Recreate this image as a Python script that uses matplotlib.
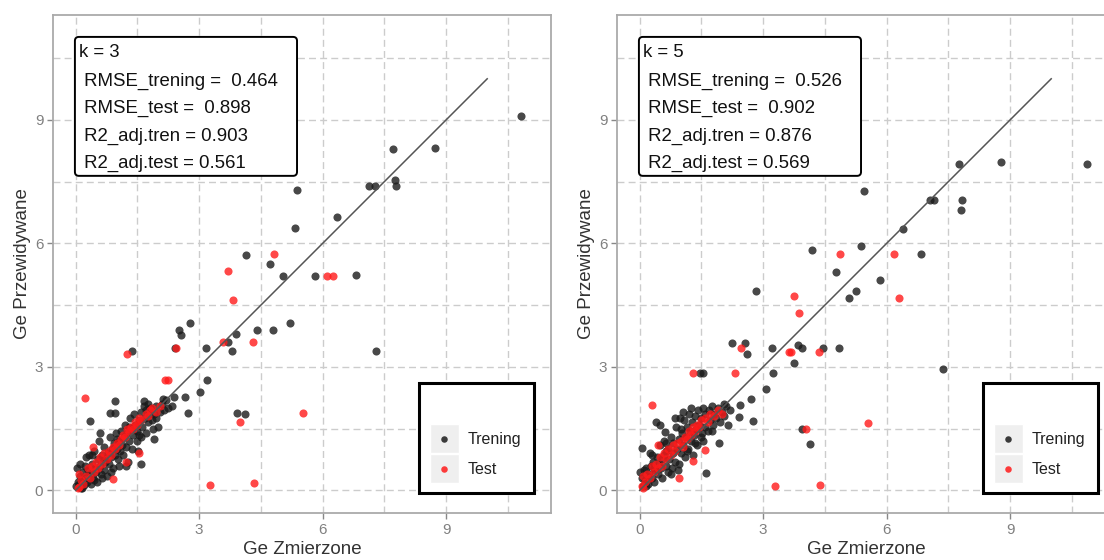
import numpy as np
import matplotlib
matplotlib.use("Agg")
import matplotlib.pyplot as plt
from matplotlib.patches import FancyBboxPatch, Rectangle

plt.rcParams['font.family'] = ['Liberation Sans', 'DejaVu Sans']

# ---- data: (measured, predicted) ----
k3_train = [
    (0.02, 0.10), (0.05, 0.20), (0.08, 0.15), (0.10, 0.35), (0.03, 0.55), (0.12, 0.05),
    (0.15, 0.25), (0.18, 0.45), (0.20, 0.12), (0.22, 0.60), (0.25, 0.30), (0.28, 0.20),
    (0.30, 0.50), (0.32, 0.85), (0.35, 0.40), (0.38, 0.15), (0.40, 0.65), (0.42, 0.30),
    (0.45, 0.95), (0.47, 0.55), (0.50, 0.45), (0.52, 0.20), (0.55, 0.75), (0.57, 1.20),
    (0.60, 0.60), (0.62, 0.40), (0.65, 0.85), (0.68, 0.50), (0.70, 1.05), (0.72, 0.70),
    (0.75, 0.35), (0.78, 0.90), (0.80, 0.65), (0.83, 1.30), (0.85, 0.80), (0.88, 1.00),
    (0.90, 0.55), (0.92, 1.15), (0.95, 0.85), (0.97, 1.40), (1.00, 1.00), (1.02, 0.75),
    (1.05, 1.20), (1.08, 0.95), (1.10, 1.45), (1.12, 1.10), (1.15, 0.85), (1.18, 1.30),
    (1.20, 1.60), (1.22, 1.05), (1.25, 1.40), (1.28, 0.70), (1.30, 1.20), (1.32, 1.75),
    (1.35, 1.50), (1.38, 1.00), (1.40, 1.35), (1.42, 1.85), (1.45, 1.60), (1.48, 1.20),
    (1.50, 1.45), (1.52, 0.95), (1.55, 1.70), (1.58, 1.90), (1.60, 1.30), (1.62, 1.55),
    (1.65, 2.05), (1.68, 1.75), (1.70, 1.40), (1.72, 1.95), (1.75, 1.65), (1.78, 1.85),
    (1.80, 2.00), (1.85, 1.70), (1.88, 1.50), (1.90, 1.85), (1.95, 2.05), (2.00, 1.55),
    (2.05, 1.90), (2.10, 2.10), (2.15, 1.95), (2.20, 2.20), (2.25, 2.00), (0.96, 2.17),
    (0.83, 1.89), (0.96, 1.89), (1.67, 2.17), (2.13, 2.23), (1.90, 1.24), (1.58, 0.65),
    (0.59, 1.39), (0.35, 1.69), (0.10, 0.65), (0.25, 0.80), (1.23, 0.59),
    (0.15, 0.05), (0.45, 0.25), (0.65, 0.30), (0.85, 0.45), (1.05, 0.60), (0.70, 0.75),
    (1.00, 1.25), (1.30, 1.55), (1.55, 1.35), (1.75, 2.10), (1.95, 1.75), (0.40, 0.85),
    (2.35, 2.06), (2.39, 2.27), (2.66, 2.27), (2.72, 1.88), (3.03, 2.40), (3.19, 2.69),
    (3.16, 3.45), (3.80, 3.38), (3.70, 3.61), (3.89, 3.80), (4.40, 3.89), (4.79, 3.89),
    (2.52, 3.90), (2.57, 3.78), (2.79, 4.06), (5.21, 4.06), (1.38, 3.38), (2.41, 3.45),
    (3.93, 1.89), (4.12, 1.86), (7.30, 3.38), (5.05, 5.21), (5.81, 5.21), (6.80, 5.24),
    (4.14, 5.71), (4.72, 5.51), (5.33, 6.38), (6.34, 6.63), (5.38, 7.30), (7.13, 7.40),
    (7.28, 7.40), (7.78, 7.40), (7.75, 7.55), (7.72, 8.29), (8.74, 8.33), (10.82, 9.09),
]
k3_test = [
    (0.05, 0.05), (0.08, 0.40), (0.12, 0.25), (0.18, 0.15), (0.25, 0.35), (0.30, 0.55),
    (0.35, 0.30), (0.40, 0.60), (0.42, 1.05), (0.45, 0.45), (0.50, 0.70), (0.55, 0.55),
    (0.60, 0.80), (0.65, 0.65), (0.70, 0.90), (0.75, 0.75), (0.80, 0.95), (0.85, 0.85),
    (0.90, 1.05), (0.91, 0.27), (0.95, 1.00), (1.00, 1.15), (1.05, 1.10), (1.10, 1.25),
    (1.15, 1.35), (1.20, 1.30), (1.23, 0.69), (1.25, 1.50), (1.30, 1.45), (1.35, 1.55),
    (1.40, 1.50), (1.45, 1.65), (1.50, 1.60), (1.54, 0.90), (1.55, 1.75), (1.60, 1.70),
    (1.70, 1.85), (1.75, 1.80), (1.80, 1.95), (1.85, 2.00), (1.95, 1.90), (2.05, 2.05),
    (0.23, 2.24), (1.24, 3.32), (2.18, 2.69), (2.25, 2.69), (2.44, 3.45), (3.57, 3.61),
    (4.31, 3.61), (3.83, 4.62), (3.70, 5.33), (4.83, 5.74), (6.11, 5.21), (6.26, 5.21),
    (4.00, 1.65), (5.52, 1.89), (3.27, 0.13), (4.34, 0.17), (0.08, 0.07),
]

k5_train = [
    (0.02, 0.45), (0.05, 0.30), (0.06, 1.02), (0.08, 0.10), (0.10, 0.50), (0.12, 0.25),
    (0.15, 0.55), (0.18, 0.35), (0.20, 0.15), (0.25, 0.90), (0.22, 0.40), (0.28, 0.60),
    (0.30, 0.30), (0.33, 0.70), (0.35, 0.20), (0.38, 0.50), (0.40, 1.67), (0.42, 0.80),
    (0.45, 0.40), (0.48, 0.65), (0.50, 1.10), (0.52, 0.55), (0.55, 0.30), (0.58, 0.85),
    (0.60, 1.20), (0.62, 1.41), (0.63, 0.60), (0.65, 0.95), (0.68, 0.45), (0.70, 1.00),
    (0.72, 0.75), (0.75, 1.30), (0.78, 0.55), (0.80, 0.90), (0.82, 1.15), (0.85, 0.70),
    (0.88, 1.55), (0.90, 1.00), (0.92, 0.50), (0.95, 1.25), (0.97, 1.75), (1.00, 0.90),
    (1.02, 1.40), (1.05, 1.10), (1.08, 1.70), (1.10, 0.80), (1.12, 1.30), (1.15, 1.55),
    (1.18, 1.00), (1.20, 1.85), (1.22, 1.45), (1.25, 1.20), (1.28, 1.65), (1.30, 0.85),
    (1.32, 1.35), (1.35, 1.80), (1.38, 1.50), (1.40, 1.10), (1.42, 1.95), (1.45, 1.60),
    (1.48, 1.30), (1.50, 1.75), (1.52, 1.40), (1.55, 2.00), (1.58, 1.55), (1.60, 1.85),
    (1.62, 0.43), (1.65, 1.45), (1.68, 1.95), (1.70, 1.70), (1.75, 2.05), (1.78, 1.60),
    (1.80, 1.85), (1.85, 1.75), (1.90, 2.00), (1.93, 1.15), (1.95, 1.65), (2.00, 1.90),
    (2.05, 1.80), (2.10, 2.05), (2.15, 1.60), (2.20, 1.95), (2.05, 2.10), (1.05, 1.90),
    (0.85, 1.75), (1.25, 2.00), (0.50, 1.60), (1.47, 2.84), (1.53, 2.84),
    (0.15, 0.10), (0.35, 0.55), (0.55, 0.75), (0.75, 0.40), (0.95, 0.65), (1.15, 0.95),
    (1.35, 1.15), (1.55, 1.20), (1.75, 1.45), (0.30, 0.85), (0.65, 1.15), (1.00, 1.50),
    (2.41, 1.78), (2.44, 2.07), (2.75, 1.69), (2.70, 2.23), (3.08, 2.46), (3.24, 2.84),
    (2.25, 3.58), (2.57, 3.58), (2.61, 3.32), (3.21, 3.45), (3.85, 3.53), (3.94, 3.45),
    (4.46, 3.45), (4.84, 3.45), (3.74, 3.10), (3.95, 1.50), (4.15, 1.12), (7.36, 2.94),
    (2.83, 4.85), (5.09, 4.67), (5.26, 4.85), (5.85, 5.11), (4.77, 5.30), (4.20, 5.84),
    (5.37, 5.93), (6.84, 5.74), (6.39, 6.34), (5.44, 7.27), (7.16, 7.05), (7.05, 7.05),
    (7.83, 7.05), (7.80, 6.82), (7.77, 7.94), (8.78, 7.97), (10.86, 7.94),
]
k5_test = [
    (0.05, 0.10), (0.08, 0.35), (0.12, 0.20), (0.18, 0.40), (0.25, 0.30), (0.30, 0.60),
    (0.35, 0.45), (0.40, 0.65), (0.45, 0.55), (0.50, 0.80), (0.55, 0.60), (0.60, 0.90),
    (0.65, 0.75), (0.70, 1.00), (0.75, 0.85), (0.80, 1.10), (0.85, 0.95), (0.90, 1.15),
    (0.96, 0.29), (1.00, 1.20), (1.05, 1.05), (1.10, 1.30), (1.15, 1.25), (1.20, 1.45),
    (1.25, 1.35), (1.29, 0.71), (1.30, 1.55), (1.35, 1.45), (1.40, 1.60), (1.45, 1.55),
    (1.50, 1.70), (1.58, 0.99), (1.60, 1.75), (1.65, 1.65), (1.70, 1.85), (1.80, 1.80),
    (1.90, 1.95), (2.00, 1.85), (0.45, 1.10), (0.29, 2.08),
    (1.29, 2.84), (2.31, 2.84), (2.46, 3.45), (3.62, 3.35), (3.68, 3.35), (4.36, 3.35),
    (3.88, 4.31), (3.74, 4.72), (6.29, 4.67), (4.86, 5.74), (6.17, 5.74), (4.05, 1.50),
    (5.56, 1.63), (3.30, 0.10), (4.38, 0.14), (0.08, 0.05),
]

panels = [
    (k3_train, k3_test, ["k = 3", " RMSE_trening =  0.464", " RMSE_test =  0.898",
                         " R2_adj.tren = 0.903", " R2_adj.test = 0.561"]),
    (k5_train, k5_test, ["k = 5", " RMSE_trening =  0.526", " RMSE_test =  0.902",
                         " R2_adj.tren = 0.876", " R2_adj.test = 0.569"]),
]
line_x = [0, 10]
ticks = [0, 3, 6, 9]
minor = [1.5, 4.5, 7.5, 10.5]
lim = (-0.55, 11.55)

fig = plt.figure(figsize=(11.04, 5.6), dpi=100)
positions = [[53 / 1104, 47 / 560, 498 / 1104, 498 / 560],
             [617 / 1104, 47 / 560, 498 / 1104, 498 / 560]]

for pos, (train, test, lines) in zip(positions, panels):
    ax = fig.add_axes(pos)
    tr = np.array(train)
    te = np.array(test)
    ax.scatter(tr[:, 0], tr[:, 1], s=34, color='#1a1a1a', alpha=0.8, linewidths=0, zorder=3)
    ax.scatter(te[:, 0], te[:, 1], s=34, color='#ff1a1a', alpha=0.8, linewidths=0, zorder=3)
    ax.plot(line_x, line_x, color='#555555', lw=1.1, zorder=4)

    ax.set_xlim(lim)
    ax.set_ylim(lim)
    ax.set_xticks(ticks)
    ax.set_yticks(ticks)
    ax.set_xticks(minor, minor=True)
    ax.set_yticks(minor, minor=True)
    ax.grid(True, which='both', color='#cccccc', lw=1.0, ls=(0, (5, 3)), zorder=0)
    ax.tick_params(which='major', length=4, width=1, color='#888888',
                   labelcolor='#808080', labelsize=11, pad=3)
    ax.tick_params(which='minor', length=0)
    for sp in ax.spines.values():
        sp.set_color('#aaaaaa')
        sp.set_linewidth(1.3)

    ax.set_xlabel('Ge Zmierzone', fontsize=13.5, color='#333333')
    ax.set_ylabel('Ge Przewidywane', fontsize=13.5, color='#333333')
    ax.xaxis.set_label_coords(0.5, -0.056)
    ax.yaxis.set_label_coords(-0.044, 0.5)

    # stats box
    box = FancyBboxPatch((0.044, 0.677), 0.446, 0.279, boxstyle='round,pad=0,rounding_size=0.008',
                         transform=ax.transAxes, facecolor='white', edgecolor='black',
                         lw=1.4, zorder=5)
    ax.add_patch(box)
    ys = [0.925, 0.867, 0.813, 0.757, 0.701]
    for t, y in zip(lines, ys):
        ax.text(0.053, y, t, transform=ax.transAxes, fontsize=13.4, color='#111111',
                ha='left', va='center', zorder=6)

    # legend
    ax.add_patch(Rectangle((0.735, 0.040), 0.231, 0.221, transform=ax.transAxes,
                           facecolor='white', edgecolor='black', lw=2.2, zorder=5))
    for yk, col, lab in [(0.120, '#1a1a1a', 'Trening'), (0.060, '#ff1a1a', 'Test')]:
        ax.add_patch(Rectangle((0.757, yk), 0.058, 0.058, transform=ax.transAxes,
                               facecolor='#efefef', edgecolor='white', lw=1, zorder=6))
        ax.scatter([0.786], [yk + 0.029], s=22, color=col, alpha=0.85, linewidths=0,
                   transform=ax.transAxes, zorder=7)
        ax.text(0.833, yk + 0.027, lab, transform=ax.transAxes, fontsize=11.5,
                color='#222222', ha='left', va='center', zorder=7)

fig.savefig('out.png', dpi=100)
